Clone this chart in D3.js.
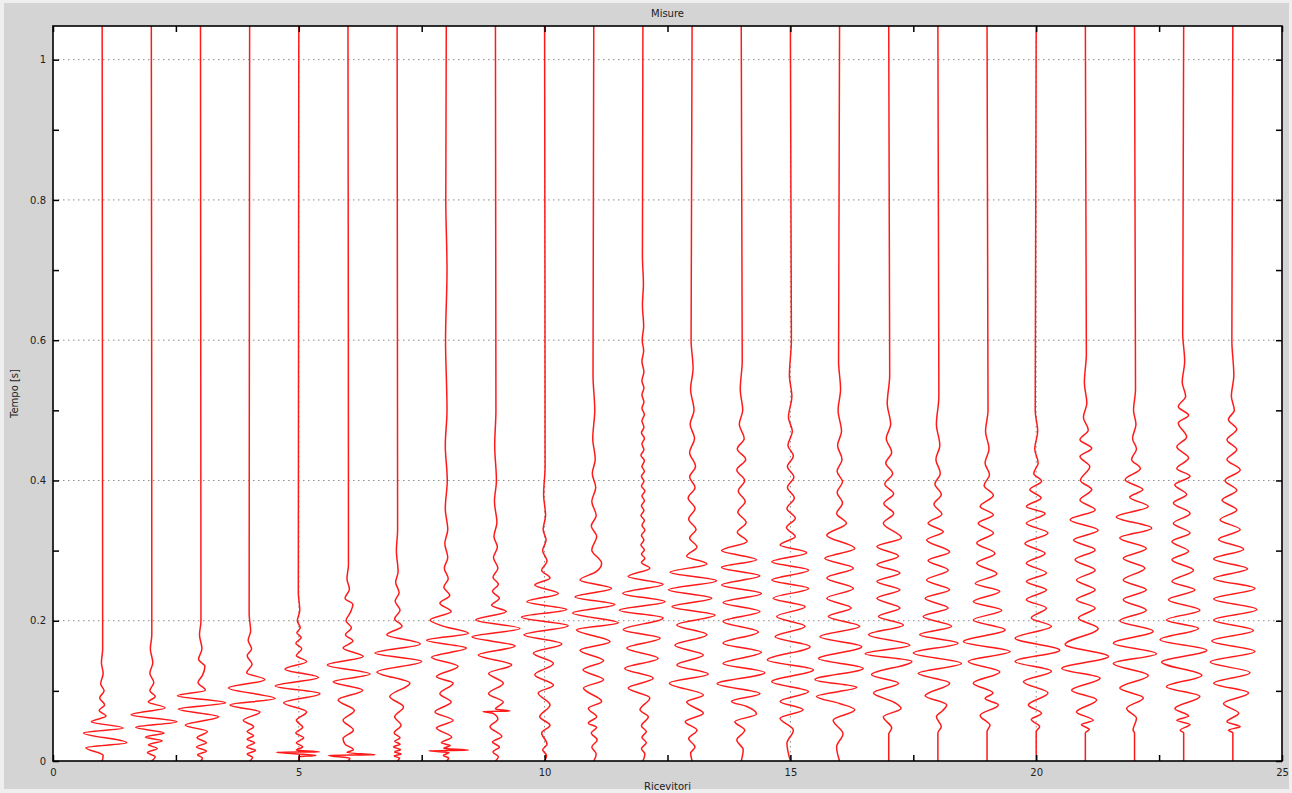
<!DOCTYPE html>
<html><head><meta charset="utf-8">
<script src="https://cdn.jsdelivr.net/npm/d3@7"></script>
<style>
body{margin:0;background:#efefef}
svg{display:block}
text{font-family:"DejaVu Sans",Verdana,sans-serif;fill:#222}
</style>
</head><body>
<svg id="chart" width="1292" height="793"></svg>
<script>
// ---------------- data ----------------
const chartTitle = "Misure";
const xTitle = "Ricevitori";
const yTitle = "Tempo [s]";
const receivers = [1,2,3,4,5,6,7,8,9,10,11,12,13,14,15,16,17,18,19,20,21,22,23,24];
const xTickValues = [0,2.5,5,7.5,10,12.5,15,17.5,20,22.5,25];
const xTickLabels = ["0","5","10","15","20","25"];
const yTickValues = [0,0.1,0.2,0.3,0.4,0.5,0.6,0.7,0.8,0.9,1.0];
const yTickLabels = ["0","0.2","0.4","0.6","0.8","1"];
const xGrid = [5,10,15,20];
const yGrid = [0.2,0.4,0.6,0.8,1.0];

// each trace: [time (s), horizontal deflection (receiver units)]
const tr01 = [[0,0],[0.008,0.02],[0.019,-0.33],[0.026,0.50],[0.040,-0.38],[0.047,0.43],[0.056,-0.22],[0.064,0.08],[0.072,-0.06],[0.080,0.05],[0.090,-0.05],[0.100,0.04],[0.110,-0.03],[0.125,0.02],[0.140,-0.015],[0.16,0.01],[1.05,0]];
const tr02 = [[0,0],[0.006,0.08],[0.012,-0.08],[0.018,0.12],[0.023,-0.06],[0.029,0.22],[0.034,-0.12],[0.040,0.26],[0.048,-0.32],[0.056,0.52],[0.066,-0.41],[0.076,0.28],[0.084,-0.06],[0.092,0.08],[0.100,-0.03],[0.112,0.05],[0.125,-0.03],[0.140,0.03],[0.160,-0.02],[0.18,0.01],[1.05,0]];
const tr03 = [[0,0],[0.004,0.04],[0.009,-0.06],[0.014,0.12],[0.020,-0.08],[0.026,0.12],[0.033,-0.07],[0.042,0.14],[0.051,-0.31],[0.063,0.37],[0.074,-0.45],[0.083,0.51],[0.093,-0.47],[0.101,0.10],[0.112,-0.05],[0.122,0.04],[0.135,0.09],[0.145,-0.04],[0.160,0.03],[0.180,-0.02],[0.2,0.01],[1.05,0]];
const tr04 = [[0,0],[0.005,0.06],[0.010,-0.05],[0.015,0.12],[0.020,-0.06],[0.026,0.10],[0.031,-0.05],[0.036,0.08],[0.042,-0.05],[0.049,0.08],[0.058,-0.13],[0.070,0.21],[0.080,-0.40],[0.089,0.52],[0.104,-0.43],[0.116,0.31],[0.126,-0.06],[0.138,0.05],[0.150,-0.05],[0.160,0.04],[0.172,-0.03],[0.185,0.02],[0.21,-0.01],[1.05,0]];
const tr05 = [[0,0],[0.006,0.0],[0.008,0.35],[0.0105,-0.10],[0.0125,-0.45],[0.0130,0.42],[0.0155,-0.05],[0.020,0.08],[0.026,-0.05],[0.033,0.10],[0.040,-0.06],[0.048,0.08],[0.058,-0.05],[0.070,0.16],[0.083,-0.31],[0.096,0.43],[0.107,-0.48],[0.119,0.40],[0.131,-0.28],[0.142,0.16],[0.150,-0.05],[0.160,0.06],[0.168,-0.06],[0.176,0.05],[0.183,-0.04],[0.190,0.03],[0.200,-0.03],[0.215,0.02],[0.24,-0.01],[1.05,0]];
const tr06 = [[0,0],[0.004,0.04],[0.0080,-0.40],[0.0088,0.55],[0.012,-0.02],[0.016,0.11],[0.024,-0.06],[0.032,-0.10],[0.044,0.11],[0.058,-0.10],[0.072,0.13],[0.087,-0.20],[0.101,0.30],[0.113,-0.30],[0.124,0.45],[0.137,-0.42],[0.149,0.31],[0.161,-0.10],[0.171,0.10],[0.180,-0.05],[0.190,0.07],[0.200,-0.04],[0.212,0.05],[0.223,0.10],[0.232,-0.06],[0.245,0.03],[0.260,-0.02],[0.28,0.01],[1.05,0]];
const tr07 = [[0,0],[0.004,0.05],[0.007,-0.06],[0.010,0.08],[0.013,-0.05],[0.016,0.07],[0.020,-0.07],[0.024,0.06],[0.028,-0.05],[0.033,0.06],[0.040,-0.06],[0.051,0.08],[0.063,-0.05],[0.077,0.13],[0.092,-0.15],[0.111,0.26],[0.127,-0.41],[0.142,0.50],[0.154,-0.45],[0.167,0.47],[0.180,-0.21],[0.192,0.10],[0.203,-0.05],[0.215,0.06],[0.228,-0.04],[0.240,0.04],[0.255,-0.03],[0.270,0.02],[0.30,-0.015],[0.33,0.01],[1.05,0]];
const tr08 = [[0,0],[0.004,0.05],[0.008,-0.06],[0.012,0.06],[0.0145,-0.35],[0.0152,0.45],[0.018,-0.05],[0.022,0.08],[0.026,-0.10],[0.034,0.11],[0.047,-0.20],[0.058,0.14],[0.070,-0.23],[0.084,0.10],[0.096,-0.13],[0.111,0.14],[0.120,-0.20],[0.135,0.24],[0.148,-0.30],[0.161,0.41],[0.172,-0.40],[0.182,0.45],[0.192,-0.05],[0.201,-0.33],[0.213,0.10],[0.225,-0.13],[0.236,0.07],[0.248,-0.05],[0.26,0.04],[0.275,-0.04],[0.29,0.03],[0.31,-0.03],[0.33,0.03],[0.36,-0.02],[0.40,0.02],[0.45,-0.02],[0.5,0.015],[0.6,-0.015],[0.7,0.015],[0.8,-0.01],[1.05,0]];
const tr09 = [[0,0],[0.006,0.06],[0.013,-0.05],[0.020,0.08],[0.027,-0.06],[0.035,0.13],[0.049,-0.11],[0.060,0.05],[0.068,-0.05],[0.0705,-0.25],[0.0712,0.30],[0.074,0.0],[0.084,0.16],[0.096,-0.14],[0.111,0.16],[0.125,-0.14],[0.137,0.33],[0.151,-0.35],[0.164,0.40],[0.177,-0.48],[0.189,0.50],[0.201,-0.40],[0.213,0.22],[0.222,-0.08],[0.232,0.08],[0.242,-0.06],[0.252,0.06],[0.262,-0.05],[0.275,0.05],[0.29,-0.04],[0.305,0.04],[0.32,-0.03],[0.34,0.03],[0.37,-0.02],[0.40,0.02],[0.45,-0.015],[0.5,0.01],[1.05,0]];
const tr10 = [[0,0],[0.008,0.04],[0.016,-0.04],[0.024,0.05],[0.040,-0.06],[0.051,0.11],[0.063,-0.10],[0.080,0.11],[0.097,-0.13],[0.108,0.18],[0.123,-0.20],[0.139,0.18],[0.154,-0.23],[0.167,0.35],[0.180,-0.42],[0.193,0.48],[0.205,-0.47],[0.216,0.45],[0.227,-0.36],[0.239,0.28],[0.251,-0.20],[0.261,0.11],[0.272,-0.06],[0.285,0.05],[0.30,-0.04],[0.315,0.03],[0.33,-0.03],[0.35,0.02],[0.38,-0.02],[0.42,0.01],[1.05,0]];
const tr11 = [[0,0],[0.010,0.05],[0.020,-0.04],[0.030,0.07],[0.040,-0.05],[0.048,0.06],[0.054,-0.11],[0.063,0.06],[0.075,-0.11],[0.085,0.16],[0.104,-0.21],[0.116,0.20],[0.130,-0.22],[0.143,0.20],[0.158,-0.28],[0.170,0.33],[0.187,-0.35],[0.197,0.50],[0.211,-0.43],[0.223,0.43],[0.234,-0.38],[0.246,0.36],[0.258,-0.28],[0.270,0.05],[0.282,0.16],[0.301,-0.04],[0.320,0.06],[0.335,-0.05],[0.35,0.05],[0.37,-0.04],[0.39,0.04],[0.41,-0.03],[0.43,0.03],[0.46,-0.02],[0.5,0.02],[0.55,-0.015],[1.05,0]];
const tr12 = [[0,0],[0.010,0.04],[0.018,-0.03],[0.026,0.07],[0.034,-0.02],[0.042,0.07],[0.050,-0.03],[0.063,0.11],[0.073,-0.06],[0.090,0.14],[0.104,-0.30],[0.118,0.21],[0.132,-0.37],[0.146,0.31],[0.161,-0.33],[0.175,0.35],[0.187,-0.40],[0.204,0.41],[0.215,-0.48],[0.227,0.45],[0.239,-0.41],[0.252,0.41],[0.263,-0.30],[0.275,0.14],[0.283,-0.03],[0.289,0.04],[0.295,-0.03],[0.301,0.03],[0.308,-0.04],[0.315,0.02],[0.322,-0.03],[0.329,0.04],[0.336,-0.02],[0.343,0.03],[0.350,-0.04],[0.357,0.02],[0.364,-0.03],[0.371,0.03],[0.378,-0.02],[0.385,0.04],[0.392,-0.03],[0.399,0.02],[0.406,-0.03],[0.413,0.03],[0.420,-0.02],[0.428,0.03],[0.436,-0.04],[0.444,0.02],[0.452,-0.02],[0.460,0.03],[0.468,-0.03],[0.476,0.02],[0.485,-0.02],[0.494,0.03],[0.503,-0.02],[0.512,0.02],[0.522,-0.02],[0.532,0.02],[0.542,-0.02],[0.555,0.02],[0.570,-0.02],[0.585,0.015],[0.60,-0.015],[0.62,0.015],[0.65,-0.01],[0.68,0.01],[0.72,-0.01],[1.05,0]];
const tr13 = [[0,0],[0.011,-0.03],[0.020,0.06],[0.032,-0.07],[0.044,0.10],[0.056,-0.14],[0.068,0.23],[0.084,-0.11],[0.094,0.23],[0.111,-0.46],[0.124,0.33],[0.137,-0.31],[0.151,0.23],[0.165,-0.35],[0.180,0.30],[0.194,-0.31],[0.208,0.47],[0.220,-0.41],[0.232,0.40],[0.244,-0.48],[0.257,0.50],[0.269,-0.45],[0.281,0.30],[0.292,-0.11],[0.305,0.10],[0.318,-0.05],[0.330,0.08],[0.345,-0.07],[0.360,0.06],[0.375,-0.08],[0.390,0.06],[0.405,-0.05],[0.420,0.07],[0.440,-0.05],[0.46,0.05],[0.48,-0.04],[0.50,0.04],[0.53,-0.03],[0.56,0.02],[0.60,-0.02],[1.05,0]];
const tr14 = [[0,0],[0.016,0.04],[0.030,-0.09],[0.044,0.07],[0.056,-0.13],[0.067,0.31],[0.078,0.10],[0.085,-0.20],[0.096,0.38],[0.110,-0.49],[0.126,0.48],[0.139,-0.37],[0.155,0.41],[0.168,-0.37],[0.184,0.35],[0.199,-0.37],[0.213,0.38],[0.226,-0.37],[0.239,0.41],[0.251,-0.40],[0.264,0.38],[0.276,-0.40],[0.287,0.31],[0.300,-0.40],[0.313,0.12],[0.326,-0.08],[0.340,0.10],[0.355,-0.07],[0.370,0.08],[0.385,-0.06],[0.400,0.07],[0.415,-0.09],[0.430,0.09],[0.445,-0.08],[0.460,0.06],[0.48,-0.04],[0.50,0.03],[0.53,-0.02],[0.57,0.02],[1.05,0]];
const tr15 = [[0,0],[0.025,-0.07],[0.044,0.06],[0.061,-0.21],[0.073,0.26],[0.085,-0.21],[0.099,0.37],[0.113,-0.38],[0.130,0.47],[0.144,-0.47],[0.163,0.40],[0.177,-0.31],[0.192,0.30],[0.206,-0.28],[0.220,0.30],[0.232,-0.35],[0.246,0.37],[0.258,-0.38],[0.272,0.37],[0.284,-0.38],[0.297,0.33],[0.308,-0.21],[0.320,0.10],[0.333,-0.08],[0.346,0.10],[0.360,-0.07],[0.375,0.08],[0.390,-0.06],[0.405,0.07],[0.420,-0.06],[0.435,0.06],[0.450,-0.05],[0.47,0.04],[0.49,-0.04],[0.52,0.03],[0.55,-0.02],[0.6,0.02],[1.05,0]];
const tr16 = [[0,0],[0.020,-0.06],[0.039,0.07],[0.058,-0.13],[0.073,0.31],[0.082,0.0],[0.092,-0.47],[0.105,0.35],[0.116,-0.50],[0.132,0.48],[0.146,-0.43],[0.163,0.45],[0.177,-0.40],[0.192,0.41],[0.206,-0.23],[0.218,0.24],[0.232,-0.26],[0.246,0.28],[0.261,-0.26],[0.275,0.28],[0.289,-0.30],[0.303,0.31],[0.322,-0.26],[0.339,0.14],[0.353,-0.06],[0.368,0.06],[0.383,-0.05],[0.398,0.06],[0.413,-0.05],[0.43,0.05],[0.45,-0.04],[0.47,0.04],[0.50,-0.03],[0.53,0.02],[0.57,-0.02],[1.05,0]];
const tr17 = [[0,0],[0.038,0],[0.047,0.06],[0.063,-0.11],[0.075,0.25],[0.084,0.10],[0.097,-0.31],[0.111,0.20],[0.123,-0.35],[0.142,0.47],[0.153,-0.48],[0.165,0.43],[0.180,-0.41],[0.194,0.30],[0.206,-0.21],[0.218,0.23],[0.232,-0.24],[0.244,0.23],[0.256,-0.24],[0.268,0.23],[0.280,-0.24],[0.292,0.20],[0.306,-0.24],[0.318,0.26],[0.339,-0.11],[0.353,0.10],[0.367,-0.10],[0.381,0.10],[0.395,-0.08],[0.410,0.08],[0.425,-0.06],[0.44,0.06],[0.46,-0.05],[0.48,0.04],[0.51,-0.03],[0.55,0.02],[1.05,0]];
const tr18 = [[0,0],[0.040,0],[0.049,0.07],[0.063,-0.03],[0.072,0.10],[0.080,0.18],[0.093,-0.26],[0.111,0.24],[0.125,-0.40],[0.139,0.48],[0.154,-0.50],[0.168,0.41],[0.180,-0.37],[0.192,0.28],[0.206,-0.30],[0.218,0.21],[0.232,-0.26],[0.244,0.24],[0.258,-0.23],[0.272,0.21],[0.286,-0.20],[0.298,0.24],[0.315,-0.23],[0.327,0.11],[0.339,-0.20],[0.352,0.08],[0.366,-0.08],[0.380,0.07],[0.395,-0.06],[0.41,0.05],[0.43,-0.04],[0.45,0.04],[0.48,-0.03],[0.52,0.02],[1.05,0]];
const tr19 = [[0,0],[0.042,0],[0.051,0.06],[0.065,-0.14],[0.080,0.23],[0.089,-0.04],[0.097,0.12],[0.111,-0.28],[0.127,0.26],[0.142,-0.38],[0.156,0.47],[0.170,-0.48],[0.187,0.37],[0.201,-0.28],[0.215,0.30],[0.227,-0.28],[0.242,0.26],[0.253,-0.24],[0.267,0.20],[0.282,-0.21],[0.296,0.16],[0.311,-0.21],[0.325,0.13],[0.339,-0.18],[0.351,0.13],[0.363,-0.14],[0.379,0.13],[0.393,-0.06],[0.408,0.05],[0.425,-0.04],[0.445,0.04],[0.47,-0.03],[0.50,0.02],[1.05,0]];
const tr20 = [[0,0],[0.042,0],[0.049,0.07],[0.059,-0.10],[0.068,0.11],[0.080,-0.16],[0.097,0.24],[0.113,-0.26],[0.128,0.31],[0.142,-0.43],[0.158,0.48],[0.175,-0.43],[0.192,0.31],[0.204,-0.10],[0.218,0.21],[0.230,-0.20],[0.244,0.21],[0.256,-0.20],[0.268,0.21],[0.282,-0.20],[0.296,0.18],[0.310,-0.23],[0.325,0.24],[0.339,-0.20],[0.353,0.18],[0.363,-0.20],[0.375,0.10],[0.387,-0.13],[0.399,0.11],[0.41,-0.05],[0.425,0.04],[0.445,-0.03],[0.47,0.03],[0.50,-0.02],[1.05,0]];
const tr21 = [[0,0],[0.040,0],[0.045,0.08],[0.052,-0.08],[0.058,0.16],[0.070,-0.18],[0.087,0.23],[0.101,-0.28],[0.118,0.30],[0.132,-0.48],[0.149,0.47],[0.166,-0.41],[0.189,0.26],[0.204,-0.14],[0.218,0.20],[0.230,-0.18],[0.244,0.20],[0.258,-0.18],[0.272,0.20],[0.287,-0.21],[0.301,0.20],[0.315,-0.24],[0.329,0.26],[0.344,-0.31],[0.358,0.20],[0.372,-0.11],[0.387,0.13],[0.400,-0.10],[0.420,0.09],[0.434,-0.11],[0.446,0.13],[0.458,-0.11],[0.472,0.06],[0.49,-0.04],[0.51,0.03],[0.54,-0.02],[0.58,0.02],[1.05,0]];
const tr22 = [[0,0],[0.040,0],[0.044,-0.03],[0.061,0.04],[0.075,-0.16],[0.090,0.18],[0.104,-0.30],[0.122,0.28],[0.139,-0.43],[0.153,0.45],[0.168,-0.43],[0.185,0.38],[0.200,-0.30],[0.215,0.24],[0.230,-0.23],[0.244,0.24],[0.258,-0.23],[0.275,0.21],[0.289,-0.23],[0.303,0.24],[0.318,-0.30],[0.332,0.35],[0.348,-0.37],[0.363,0.28],[0.376,-0.10],[0.387,0.17],[0.401,-0.19],[0.417,0.12],[0.430,-0.06],[0.445,0.04],[0.46,-0.04],[0.48,0.03],[0.50,-0.02],[0.53,0.02],[1.05,0]];
const tr23 = [[0,0],[0.040,0],[0.044,-0.07],[0.052,0.13],[0.058,-0.14],[0.064,0.10],[0.075,-0.18],[0.092,0.33],[0.106,-0.35],[0.122,0.37],[0.141,-0.45],[0.158,0.47],[0.173,-0.48],[0.189,0.30],[0.201,-0.35],[0.215,0.33],[0.230,-0.31],[0.244,0.23],[0.256,-0.24],[0.272,0.20],[0.287,-0.24],[0.299,0.10],[0.313,-0.24],[0.325,0.13],[0.339,-0.21],[0.353,0.13],[0.368,-0.21],[0.380,0.06],[0.394,-0.18],[0.406,0.13],[0.417,-0.14],[0.432,0.10],[0.448,-0.14],[0.462,0.06],[0.482,-0.11],[0.493,0.10],[0.505,-0.11],[0.52,0.04],[0.54,-0.03],[0.57,0.02],[0.61,-0.02],[1.05,0]];
const tr24 = [[0,0],[0.040,0],[0.044,-0.09],[0.049,0.15],[0.056,-0.12],[0.068,0.12],[0.082,-0.19],[0.097,0.32],[0.111,-0.39],[0.126,0.35],[0.141,-0.46],[0.156,0.45],[0.171,-0.43],[0.186,0.42],[0.201,-0.39],[0.216,0.49],[0.231,-0.39],[0.246,0.45],[0.260,-0.39],[0.274,0.30],[0.288,-0.39],[0.302,0.22],[0.316,-0.29],[0.330,0.15],[0.344,-0.26],[0.358,0.08],[0.372,-0.22],[0.386,0.08],[0.400,-0.16],[0.415,0.15],[0.430,-0.12],[0.444,0.08],[0.458,-0.12],[0.473,0.08],[0.487,-0.09],[0.50,0.03],[0.52,-0.03],[0.55,0.02],[0.6,-0.02],[1.05,0]];
const traces = [tr01,tr02,tr03,tr04,tr05,tr06,tr07,tr08,tr09,tr10,tr11,tr12,tr13,tr14,tr15,tr16,tr17,tr18,tr19,tr20,tr21,tr22,tr23,tr24];

// ---------------- drawing ----------------
const W = 1292, H = 793;
const plot = {left: 53, right: 1282, top: 26, bottom: 761};
const svg = d3.select("#chart");

svg.append("rect").attr("x",0).attr("y",0).attr("width",W).attr("height",H).attr("fill","#efefef");
svg.append("rect").attr("x",4).attr("y",3).attr("width",1285).attr("height",786).attr("fill","#d4d4d4");

const x = d3.scaleLinear().domain([0,25]).range([plot.left, plot.right]);
const y = d3.scaleLinear().domain([0,1.048]).range([plot.bottom, plot.top]);

svg.append("rect").attr("x",plot.left).attr("y",plot.top)
  .attr("width",plot.right-plot.left).attr("height",plot.bottom-plot.top).attr("fill","#fff");

svg.append("clipPath").attr("id","clip").append("rect")
  .attr("x",plot.left).attr("y",plot.top).attr("width",plot.right-plot.left).attr("height",plot.bottom-plot.top);

// grid
const grid = svg.append("g").attr("stroke","#8a8a8a").attr("stroke-width",1).attr("stroke-dasharray","1.5,3.5");
grid.selectAll("line.h").data(yGrid).join("line").attr("class","h")
  .attr("x1",plot.left).attr("x2",plot.right).attr("y1",d=>y(d)).attr("y2",d=>y(d));
grid.selectAll("line.v").data(xGrid).join("line").attr("class","v")
  .attr("y1",plot.top).attr("y2",plot.bottom).attr("x1",d=>x(d)).attr("x2",d=>x(d));

// traces
const line = d3.line()
  .x(d => x(d.r + d.a))
  .y(d => y(d.t))
  .curve(d3.curveMonotoneY);

const traceData = traces.map((tr,i) => tr.map(([t,a]) => ({r: receivers[i], t, a})).sort((p,q)=>q.t-p.t));
svg.append("g").attr("clip-path","url(#clip)")
  .selectAll("path").data(traceData).join("path")
  .attr("d", line).attr("fill","none").attr("stroke","#ff1a1a").attr("stroke-width",1.5)
  .attr("stroke-linejoin","round");

// axes
const fmtX = d => { const s = String(d); return xTickLabels.includes(s) ? s : ""; };
const fmtY = d => { const s = String(+d.toFixed(1)); return yTickLabels.includes(s) ? s : ""; };

const axB = svg.append("g").attr("transform",`translate(0,${plot.bottom})`)
  .call(d3.axisBottom(x).tickValues(xTickValues).tickSizeInner(-6).tickSizeOuter(0).tickPadding(8).tickFormat(fmtX));
const axT = svg.append("g").attr("transform",`translate(0,${plot.top})`)
  .call(d3.axisTop(x).tickValues(xTickValues).tickSizeInner(-6).tickSizeOuter(0).tickFormat(""));
const axL = svg.append("g").attr("transform",`translate(${plot.left},0)`)
  .call(d3.axisLeft(y).tickValues(yTickValues).tickSizeInner(-6).tickSizeOuter(0).tickPadding(7).tickFormat(fmtY));
const axR = svg.append("g").attr("transform",`translate(${plot.right},0)`)
  .call(d3.axisRight(y).tickValues(yTickValues).tickSizeInner(-6).tickSizeOuter(0).tickFormat(""));
[axB,axT,axL,axR].forEach(a => {
  a.select(".domain").remove();
  a.selectAll(".tick line").attr("stroke","#000").attr("stroke-width",1.5);
  a.selectAll(".tick text").attr("fill","#222").style("font-size","10px").style("font-family","'DejaVu Sans',Verdana,sans-serif");
});

// frame
svg.append("rect").attr("x",plot.left).attr("y",plot.top)
  .attr("width",plot.right-plot.left).attr("height",plot.bottom-plot.top)
  .attr("fill","none").attr("stroke","#000").attr("stroke-width",1.6);

// titles
svg.append("text").attr("x",(plot.left+plot.right)/2).attr("y",17).attr("text-anchor","middle")
  .style("font-size","10px").text(chartTitle);
svg.append("text").attr("x",(plot.left+plot.right)/2).attr("y",790).attr("text-anchor","middle")
  .style("font-size","10px").text(xTitle);
svg.append("text").attr("transform",`translate(18,${(plot.top+plot.bottom)/2}) rotate(-90)`)
  .attr("text-anchor","middle").style("font-size","10px").text(yTitle);
</script>
</body></html>
